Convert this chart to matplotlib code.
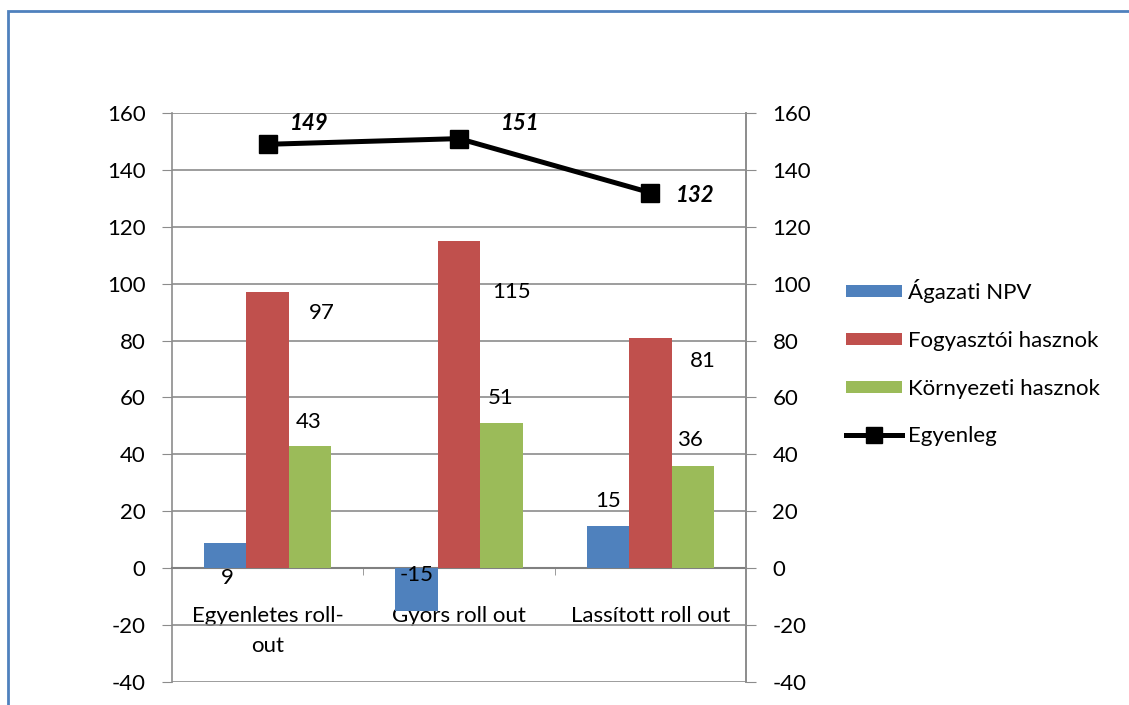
import numpy as np
import matplotlib.pyplot as plt
from matplotlib.patches import Patch, Rectangle
from matplotlib.lines import Line2D

plt.rcParams['font.family'] = ['Lato', 'DejaVu Sans']
plt.rcParams['axes.unicode_minus'] = False

categories = ['Egyenletes roll-\nout', 'Gyors roll out', 'Lassított roll out']
agazati_npv = [9, -15, 15]
fogyasztoi = [97, 115, 81]
kornyezeti = [43, 51, 36]
egyenleg = [149, 151, 132]

series_names = ['Ágazati NPV', 'Fogyasztói hasznok', 'Környezeti hasznok', 'Egyenleg']
colors = ['#4F81BD', '#C0504D', '#9BBB59']
grid_col = '#8C8C8C'
fs = 16

# label offsets in pixels, relative to (bar centre, bar value)
npv_off = [(2, -35), (0, 36), (0, 25)]
fogy_off = [(54, -21), (53, -51), (52, -23)]
korny_off = [(-2, 24), (-1, 25), (-3, 26)]
egy_off = [(42, 21), (61, 15), (45, -3)]

fig = plt.figure(figsize=(11.29, 7.05), dpi=100)
ax = fig.add_axes([172 / 1129, 1 - 682 / 705, 574 / 1129, 569 / 705])

x = np.arange(len(categories))
w = 0.222
bar_sets = [agazati_npv, fogyasztoi, kornyezeti]
offsets = [npv_off, fogy_off, korny_off]
for i, (vals, offs) in enumerate(zip(bar_sets, offsets)):
    xs = x + (i - 1) * w
    ax.bar(xs, vals, w, color=colors[i], zorder=3)
    for xi, v, (dx, dy) in zip(xs, vals, offs):
        ax.annotate(str(v), (xi, v), xytext=(dx, dy), textcoords='offset pixels',
                    ha='center', va='center', fontsize=fs, zorder=5)

ax.set_xlim(-0.5, 2.5)
ax.set_ylim(-40, 160)
ax.set_yticks(range(-40, 161, 20))
ax.yaxis.grid(True, color=grid_col, lw=1.2, zorder=0)
ax.set_axisbelow(True)

ax.spines['top'].set_visible(False)
ax.spines['left'].set_color(grid_col)
ax.spines['right'].set_color(grid_col)
ax.spines['left'].set_linewidth(1.2)
ax.spines['right'].set_linewidth(1.2)
ax.spines['bottom'].set_position(('data', 0))
ax.spines['bottom'].set_color('#808080')
ax.spines['bottom'].set_linewidth(1.5)

ax.set_xticks(x)
ax.set_xticklabels(categories, fontsize=fs, linespacing=1.65)
ax.set_xticks([0.5, 1.5], minor=True)
ax.tick_params(axis='x', which='major', length=0, pad=27)
ax.tick_params(axis='x', which='minor', length=5, color=grid_col, direction='out')
ax.tick_params(axis='y', length=7, color=grid_col, labelsize=fs, pad=12)

ax2 = ax.twinx()
ax2.set_ylim(-40, 160)
ax2.set_yticks(range(-40, 161, 20))
ax2.tick_params(axis='y', length=7, color=grid_col, labelsize=fs, pad=12)
for s in ['top', 'left', 'bottom']:
    ax2.spines[s].set_visible(False)
ax2.spines['right'].set_color(grid_col)
ax2.spines['right'].set_linewidth(1.2)
ax2.plot(x, egyenleg, color='black', lw=3.6, marker='s', markersize=13, zorder=4)
for xi, v, (dx, dy) in zip(x, egyenleg, egy_off):
    ax2.annotate(str(v), (xi, v), xytext=(dx, dy), textcoords='offset pixels',
                 ha='center', va='center', fontsize=fs, fontweight='bold',
                 fontstyle='italic', zorder=5)

handles = [Patch(facecolor=c) for c in colors]
handles.append(Line2D([], [], color='black', lw=3.6, marker='s', markersize=12))
fig.legend(handles, series_names, loc='upper left',
           bbox_to_anchor=(846 / 1129, 1 - 279 / 705), frameon=False,
           fontsize=fs, handlelength=2.5, handleheight=0.47, handletextpad=0.3,
           labelspacing=1.25, borderpad=0, borderaxespad=0)

# outer chart border
fig.patches.append(Rectangle((8 / 1129, -0.1), 1.2, 1.1 - 11 / 705,
                             transform=fig.transFigure, fill=False,
                             edgecolor='#4F81BD', lw=2))

fig.savefig('out.png', dpi=100)
